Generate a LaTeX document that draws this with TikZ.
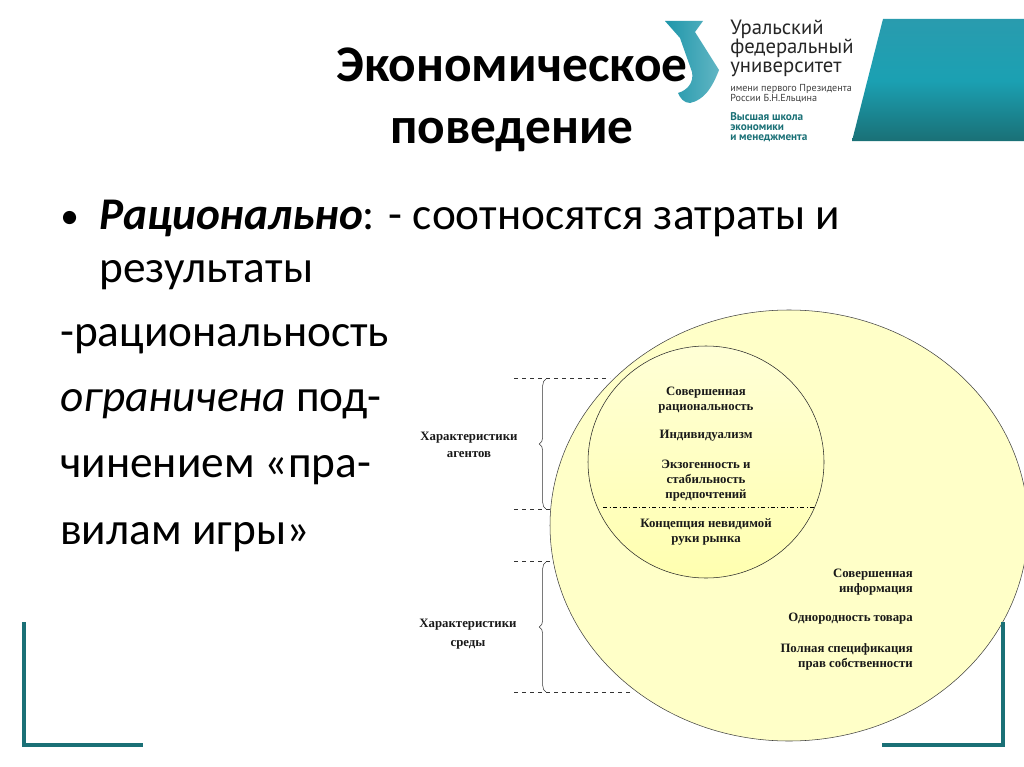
\documentclass[tikz,border=0pt]{standalone}
\usepackage{fontspec}
\setmainfont{Carlito}
\newfontfamily\serifdiag{Liberation Serif}
\newfontfamily\logofont{PT Sans}
\usepackage{xcolor}
\usetikzlibrary{arrows.meta,positioning,calc,decorations.pathreplacing}
\definecolor{uniteal}{RGB}{26,112,118}
\definecolor{logoteal}{RGB}{30,150,170}
\definecolor{circyellow}{RGB}{255,255,200}
\begin{document}
\begin{tikzpicture}[x=0.75pt, y=-0.75pt,
  titletext/.style={font=\fontsize{38.5}{46.5}\selectfont\bfseries, align=center},
  bodytext/.style={font=\fontsize{34}{40}\selectfont, anchor=base west, inner sep=0pt},
  diag/.style={font=\serifdiag\fontsize{9.6}{11.3}\selectfont\bfseries, align=center, inner sep=0pt, text=black!90},
  diagr/.style={diag, align=right, anchor=east},
  guide/.style={draw=black!80, dashed, thin},
  bracket/.style={draw=black!80, thin, decorate, decoration={brace, amplitude=5pt}},
  corner/.style={draw=uniteal, line width=3pt},
  logotext/.style={font=\logofont\fontsize{15.5}{14}\selectfont, anchor=base west, inner sep=0pt, text=black!85},
  logosmall/.style={font=\logofont\fontsize{7.6}{9}\selectfont, anchor=base west, inner sep=0pt, text=black!75},
  logoschool/.style={font=\logofont\fontsize{8.4}{8}\selectfont\bfseries, anchor=base west, inner sep=0pt, text=uniteal}]
  \useasboundingbox (0,0) rectangle (1024,767);
  \fill[white] (0,0) rectangle (1024,767);
  % circles
  \draw[black!75, fill=circyellow] (789,525.5) ellipse [x radius=239, y radius=215.5];
  \draw[black!85, bottom color=circyellow!88!yellow, top color=circyellow!75] (706,462) ellipse [x radius=118, y radius=116];
  \coordinate (splitL) at (603,507);
  \coordinate (splitR) at (815,507);
  \draw[black, dash dot, thin] (splitL) -- (splitR);
  % guides and braces
  \coordinate (agentTopA) at (514,378);
  \coordinate (agentTopB) at (610,378);
  \coordinate (agentLowA) at (514,509);
  \coordinate (agentLowB) at (551,509);
  \coordinate (envTopA) at (514,561);
  \coordinate (envTopB) at (552,561);
  \coordinate (envLowA) at (514,692);
  \coordinate (envLowB) at (632,692);
  \draw[guide] (agentTopA) -- (agentTopB);
  \draw[guide] (agentLowA) -- (agentLowB);
  \draw[guide] (envTopA) -- (envTopB);
  \draw[guide] (envLowA) -- (envLowB);
  \draw[bracket] (546,509) -- (546,379);
  \draw[bracket] (546,692) -- (546,562);
  % diagram labels
  \node[diag] (agents) at (469,445) {Характеристики\\[1.5pt]агентов};
  \node[diag] (environ) at (468,634) {Характеристики\\[3pt]среды};
  \node[diag] (ratio) at (706,400) {Совершенная\\рациональность};
  \node[diag] (indiv) at (706,436) {Индивидуализм};
  \node[diag] (exo) at (706,481) {Экзогенность и\\стабильность\\предпочтений};
  \node[diag] (hand) at (706,532) {Концепция невидимой\\руки рынка};
  \node[diagr] (info) at (913,582) {Совершенная\\информация};
  \node[diagr] (goods) at (913,619) {Однородность товара};
  \node[diagr] (rights) at (913,657) {Полная спецификация\\прав собственности};
  % logo
  \shade[left color=logoteal, right color=logoteal!70!white]
     (665,21) -- (703,21) -- (695,32) -- (719,70)
     .. controls (712,88) and (704,100) .. (690,103)
     .. controls (684,103) and (680,98) .. (678,93)
     .. controls (688,90) and (694,82) .. (692,72) -- (680,38) -- cycle;
  \shade[top color=logoteal!95!white, bottom color=uniteal, middle color=logoteal!90!cyan]
     (883,19) -- (1024,19) -- (1024,141) -- (852,141) -- cycle;
  \node[logotext] (uni1) at (730,35) {Уральский};
  \node[logotext] (uni2) at (730,54) {федеральный};
  \node[logotext] (uni3) at (730,73) {университет};
  \node[logosmall] (uni4) at (730,91) {имени первого Президента};
  \node[logosmall] (uni5) at (730,102) {России Б.Н.Ельцина};
  \node[logoschool] (uni6) at (730,120) {Высшая школа};
  \node[logoschool] (uni7) at (730,130) {экономики};
  \node[logoschool] (uni8) at (730,140) {и менеджмента};
  % slide text
  \node[titletext] (title) at (512,99.5) {Экономическое\\поведение};
  \node[bodytext] (bullet) at (60,228) {\fontsize{28}{30}\selectfont •};
  \node[bodytext] (line1) at (99,229) {\textbf{\textit{Рационально}}: - соотносятся затраты и};
  \node[bodytext] (line2) at (99,282) {результаты};
  \node[bodytext] (line3) at (60,346) {-рациональность};
  \node[bodytext] (line4) at (60,411) {\textit{ограничена} под-};
  \node[bodytext] (line5) at (60,477) {чинением «пра-};
  \node[bodytext] (line6) at (60,544) {вилам игры»};
  % corners
  \draw[corner] (24,622) -- (24,745) -- (143,745);
  \draw[corner] (882,745) -- (1003,745) -- (1003,622);
\end{tikzpicture}
\end{document}
